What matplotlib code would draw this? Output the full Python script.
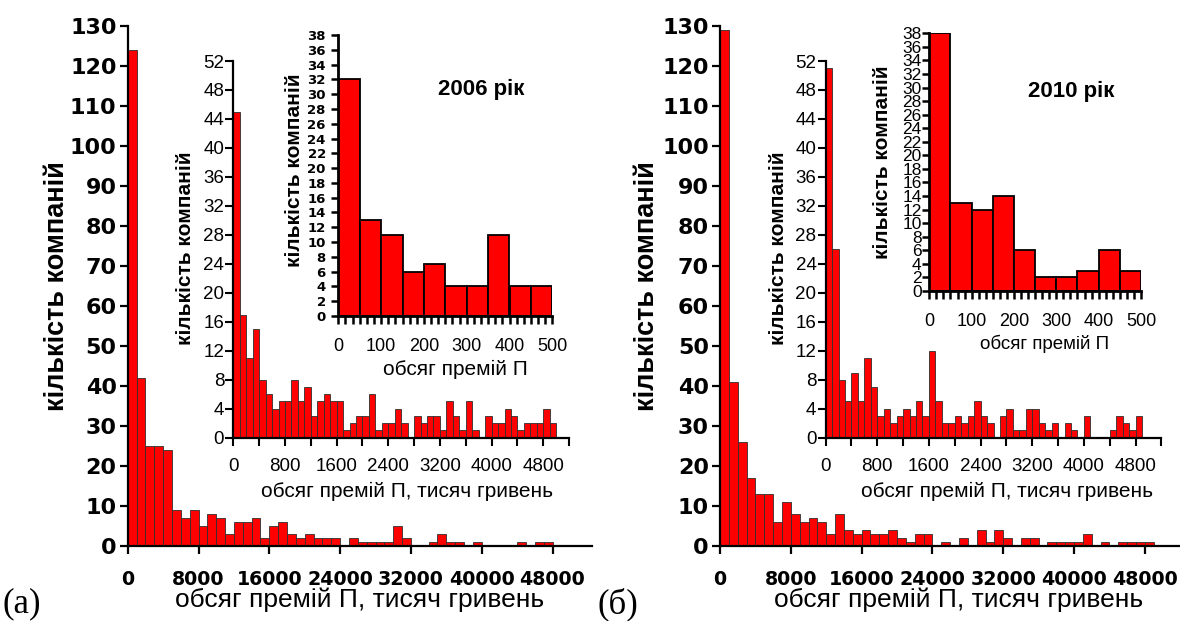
import numpy as np
import matplotlib.pyplot as plt

plt.rcParams['font.family'] = ['Liberation Sans', 'DejaVu Sans']

W, H = 1180, 621

# number of companies per bin of insurance premiums, 2006
main_2006 = [124, 42, 25, 25, 24, 9, 7, 9, 5, 8, 7, 3, 6, 6, 7, 2, 5, 6, 3, 2,
             3, 2, 2, 2, 0, 2, 1, 1, 1, 1, 5, 2, 0, 0, 1, 3, 1, 1, 0, 1,
             0, 0, 0, 0, 1, 0, 1, 1]
mid_2006 = [45, 17, 11, 15, 8, 6, 4, 5, 5, 8, 5, 7, 3, 5, 6, 5, 5, 1, 2, 3,
            3, 6, 1, 2, 2, 4, 2, 0, 3, 2, 3, 3, 1, 5, 3, 1, 5, 1, 0, 3,
            2, 2, 4, 3, 1, 2, 2, 2, 4, 2]
small_2006 = [32, 13, 11, 6, 7, 4, 4, 11, 4, 4]

# same for 2010
main_2010 = [129, 41, 26, 17, 13, 13, 6, 11, 8, 6, 7, 6, 3, 8, 4, 3, 4, 3, 3, 4,
             2, 1, 3, 3, 0, 1, 0, 2, 0, 4, 1, 4, 2, 0, 2, 2, 0, 1, 1, 1,
             1, 3, 0, 1, 0, 1, 1, 1, 1]
mid_2010 = [51, 26, 8, 5, 9, 5, 11, 7, 3, 4, 2, 3, 4, 3, 5, 3, 12, 5, 2, 2,
            3, 2, 3, 5, 3, 2, 0, 3, 4, 1, 1, 4, 4, 2, 1, 2, 0, 2, 1, 0,
            3, 0, 0, 0, 1, 3, 2, 1, 3]
small_2010 = [38, 13, 12, 14, 6, 2, 2, 3, 6, 3]

main_bin, mid_bin, small_bin = 1000, 100, 50

main_xticks = list(range(0, 48001, 8000))
main_yticks = list(range(0, 131, 10))
mid_xticks = list(range(0, 5201, 400))
mid_yticks = list(range(0, 53, 4))
small_xticks = np.linspace(0, 500, 31)
small_yticks = list(range(0, 39, 2))

ylabel_text = 'кількість компаній'
xlabel_full = 'обсяг премій П, тисяч гривень'
xlabel_short = 'обсяг премій П'

fig = plt.figure(figsize=(W / 100, H / 100), dpi=100)


def px_axes(left, bottom, right, top):
    # rows are counted from the top of the image
    return fig.add_axes([left / W, 1 - bottom / H, (right - left) / W, (bottom - top) / H])


def px_text(x, y, s, **kw):
    fig.text(x / W, 1 - y / H, s, ha='center', va='center', **kw)


def bars(ax, counts, width, edge, lw):
    left = np.arange(len(counts)) * width
    ax.bar(left, counts, width=width, align='edge', color='#ff0000',
           edgecolor=edge, linewidth=lw)


def clean(ax, lw):
    for side in ('top', 'right'):
        ax.spines[side].set_visible(False)
    for side in ('left', 'bottom'):
        ax.spines[side].set_linewidth(lw)
    ax.patch.set_visible(False)


def bold_ticks(ax, axis='both'):
    labs = []
    if axis in ('x', 'both'):
        labs += ax.get_xticklabels()
    if axis in ('y', 'both'):
        labs += ax.get_yticklabels()
    for lab in labs:
        lab.set_fontweight('bold')


def panel(dx, main, mid, small, xmax, small_box, small_ylab_kw, small_bold):
    # big histogram, 1000-wide bins
    x0 = 127.7 + dx
    ax = px_axes(x0, 545.7, x0 + xmax * 70.8 / 8000, 25.7)
    bars(ax, main, main_bin, '#303030', 0.6)
    clean(ax, 1.6)
    ax.set_xlim(0, xmax)
    ax.set_ylim(0, 130)
    ax.set_xticks(main_xticks)
    ax.set_yticks(main_yticks)
    ax.tick_params(axis='both', direction='out', length=5.5, width=1.6,
                   labelfontfamily='DejaVu Sans')
    ax.tick_params(axis='x', pad=11.8, labelsize=13.7)
    ax.tick_params(axis='y', pad=2.5, labelsize=16)
    bold_ticks(ax)

    # middle inset, 100-wide bins up to 5000
    ax2 = px_axes(233.3 + dx, 437.7, 569.1 + dx, 61)
    bars(ax2, mid, mid_bin, '#303030', 0.6)
    clean(ax2, 1.6)
    ax2.set_xlim(0, 5200)
    ax2.set_ylim(0, 52)
    ax2.set_xticks(mid_xticks, [str(v) if v % 800 == 0 and v < 5200 else '' for v in mid_xticks])
    ax2.set_yticks(mid_yticks)
    ax2.tick_params(axis='both', direction='out', length=5.6, width=1.5, labelsize=13.5)
    ax2.tick_params(axis='x', pad=9.2)
    ax2.tick_params(axis='y', pad=1)

    # small inset, 50-wide bins up to 500
    left, bottom, right, top = small_box
    ax3 = px_axes(left, bottom, right, top)
    bars(ax3, small, small_bin, 'black', 1.3)
    clean(ax3, 2)
    ax3.set_xlim(0, 500)
    ax3.set_ylim(0, 38)
    ax3.set_xticks(small_xticks, [f'{v:.0f}' if round(v) % 100 == 0 else '' for v in small_xticks])
    ax3.set_yticks(small_yticks)
    ax3.tick_params(axis='x', direction='out', length=5.5, width=1.8, labelsize=13, pad=10)
    ax3.tick_params(axis='y', direction='out', length=5, width=1.8, **small_ylab_kw)
    if small_bold:
        bold_ticks(ax3, 'y')


panel(0, main_2006, mid_2006, small_2006, 52500, (338.3, 316, 552.3, 35),
      dict(labelsize=9.5, pad=4, labelfontfamily='DejaVu Sans'), True)
panel(592.3, main_2010, mid_2010, small_2010, 52000, (929.3, 291, 1141, 33.3),
      dict(labelsize=12.5, pad=0.5), False)

# axis titles, year captions and panel letters
for yx, xx, mx, my, sx, sy, syl, sxl, sxs, yr, yrx, yry, letter, lx in [
        (57, 360, 185.6, 407, 294, 170, 455, 369, 15, '2006 рік', 481.5, 89, '(а)', 22),
        (647, 959, 778, 1007, 883, 162.5, 1045, 344, 13.5, '2010 рік', 1071, 91, '(б)', 618)]:
    px_text(yx, 286, ylabel_text, rotation=90, fontsize=19.5, fontweight='bold')
    px_text(xx, 600, xlabel_full, fontsize=19)
    px_text(mx, 248, ylabel_text, rotation=90, fontsize=15, fontweight='bold')
    px_text(my, 491, xlabel_full, fontsize=15)
    px_text(sx, sy, ylabel_text, rotation=90, fontsize=15, fontweight='bold')
    px_text(syl, sxl, xlabel_short, fontsize=sxs)
    px_text(yrx, yry, yr, fontsize=16, fontweight='bold')
    px_text(lx, 604, letter, fontsize=25, family=['Liberation Serif', 'DejaVu Serif'])

fig.savefig('out.png', dpi=100)
